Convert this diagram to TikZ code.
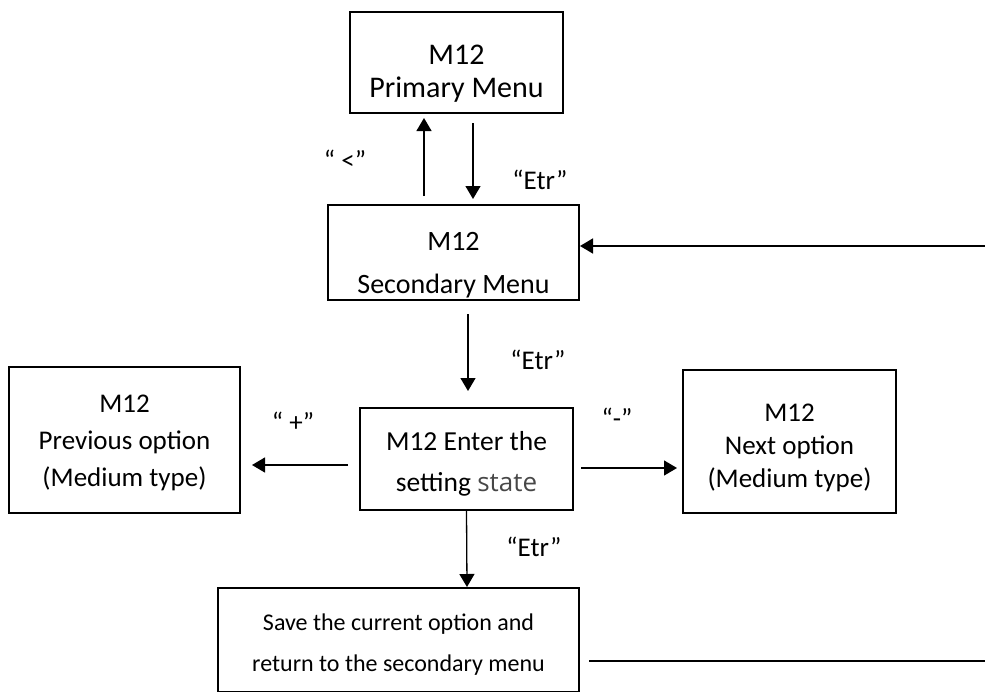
\documentclass[tikz,border=0pt]{standalone}
\usepackage{fontspec}
\setmainfont{Carlito}
\newfontfamily\statefont{Open Sans}
\usetikzlibrary{arrows.meta}
\tikzset{
  box/.style={draw=black, line width=2pt, inner sep=0pt},
  txt/.style={align=center, inner sep=0pt, text=black},
  lbl/.style={inner sep=0pt, font=\fontsize{27}{32}\selectfont},
  arr/.style={line width=1.3pt, -{Triangle[length=13pt,width=15pt]}},
  ln/.style={line width=2.2pt}
}
\begin{document}
\begin{tikzpicture}[x=1pt,y=-1pt]
\useasboundingbox (0,0) rectangle (985,691);
% boxes
\node[box, minimum width=213pt, minimum height=101pt] (pri) at (456.5,62.5) {};
\node[box, minimum width=251pt, minimum height=95pt] (sec) at (453.5,252.5) {};
\node[box, minimum width=213pt, minimum height=102pt] (cen) at (466.5,459) {};
\node[box, minimum width=231pt, minimum height=146pt] (lef) at (124.5,440) {};
\node[box, minimum width=213pt, minimum height=143pt] (rig) at (789.5,441.5) {};
\node[box, minimum width=361pt, minimum height=104pt] (bot) at (398.5,640) {};
% texts
\node[txt, font=\fontsize{30}{33}\selectfont] (prit) at (456.5,74) {M12\\Primary Menu};
\node[txt, font=\fontsize{28}{43}\selectfont] (sect) at (453.5,265) {M12\\Secondary Menu};
\node[txt, font=\fontsize{27.5}{41}\selectfont] (cent) at (466.5,464) {M12 Enter the\\setting {\statefont\color{black!72}\fontsize{26}{41}\selectfont state}};
\node[txt, font=\fontsize{27}{37}\selectfont] (left) at (124.5,443) {M12\\Previous option\\(Medium type)};
\node[txt, font=\fontsize{27}{33}\selectfont] (rigt) at (789.5,448) {M12\\Next option\\(Medium type)};
\node[txt, font=\fontsize{24}{41}\selectfont] (bott) at (398.5,645) {Save the current option and\\return to the secondary menu};
% labels
\node[lbl] (l1) at (345,160) {“ <”};
\node[lbl] (l2) at (540,180) {“Etr”};
\node[lbl] (l3) at (538,360) {“Etr”};
\node[lbl] (l4) at (534,547) {“Etr”};
\node[lbl] (l5) at (293,422) {“ +”};
\node[lbl] (l6) at (617,418) {“-”};
% connectors
\draw[arr] ([xshift=-29.5pt,yshift=8pt]sec.north) -- ([xshift=-32.5pt,yshift=-4pt]pri.south);
\draw[arr] ([xshift=16.5pt,yshift=-9pt]pri.south) -- ([xshift=19.5pt,yshift=5pt]sec.north);
\draw[arr] ([xshift=14.5pt,yshift=-13pt]sec.south) -- ([xshift=1.5pt,yshift=16pt]cen.north);
\draw[arr] ([xshift=-11pt,yshift=-6pt]cen.west) -- ([xshift=11pt,yshift=-25pt]lef.east);
\draw[arr] ([xshift=7pt,yshift=-9pt]cen.east) -- ([xshift=-5pt,yshift=-26.5pt]rig.west);
\draw[arr] (cen.south) -- ([xshift=68.5pt]bot.north);
\coordinate (e1) at (985,661);
\coordinate (e2) at (985,246);
\draw[ln] ([xshift=9pt,yshift=-21pt]bot.east) -- (e1);
\draw[arr, line width=1.6pt] (e2) -- ([yshift=6.5pt]sec.east);
\end{tikzpicture}
\end{document}
